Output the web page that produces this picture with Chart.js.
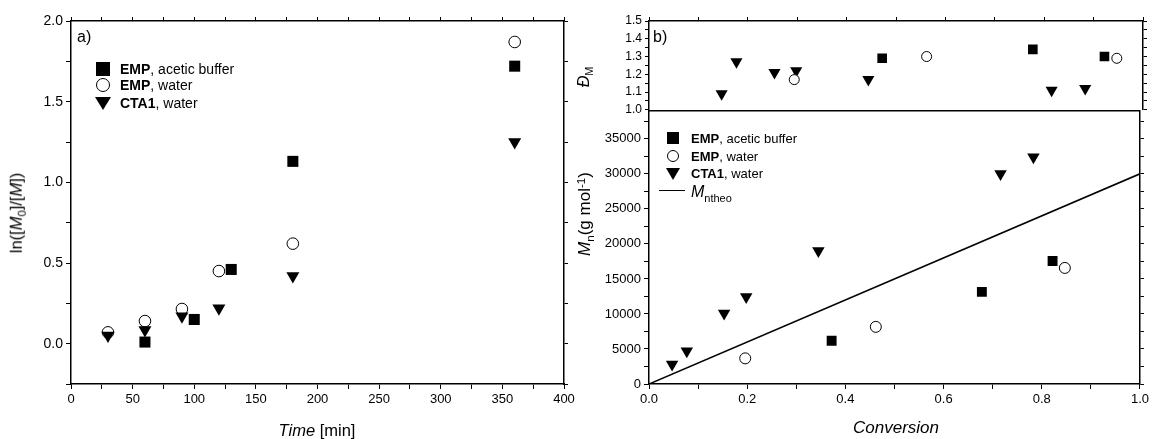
<!DOCTYPE html>
<html>
<head>
<meta charset="utf-8">
<script src="https://cdn.jsdelivr.net/npm/chart.js@4.4.0/dist/chart.umd.min.js"></script>
<style>
  body { margin: 0; background: #fff; }
  #wrap { position: relative; width: 1152px; height: 439px; overflow: hidden; font-family: "Liberation Sans", Arial, sans-serif; color: #000; }
  canvas { position: absolute; }
  .lbl { position: absolute; white-space: nowrap; line-height: 1; pointer-events: none; }
  .mid { transform: translateY(-50%); }
  .ctr { transform: translate(-50%, -50%); }
  .rot { transform: translate(-50%, -50%) rotate(-90deg); }
  .sym { position: absolute; box-sizing: border-box; }
  .sq { background: #000; }
  .ci { border: 1px solid #000; border-radius: 50%; background: #fff; }
  .tr { width: 0; height: 0; border-style: solid; border-color: #000 transparent transparent transparent; }
  .sub { position: relative; top: 0.35em; font-size: 0.68em; }
  .sup { position: relative; top: -0.45em; font-size: 0.68em; }
</style>
</head>
<body>
<div id="wrap">
  <canvas id="cA" width="600" height="439" style="left:0;top:0"></canvas>
  <canvas id="cB" width="562" height="120" style="left:590px;top:0"></canvas>
  <canvas id="cC" width="562" height="339" style="left:590px;top:100px"></canvas>

  <!-- panel a texts -->
  <div class="lbl mid" style="left:77px;top:37px;font-size:16px">a)</div>
  <div class="lbl rot" style="left:16px;top:213px;font-size:16.5px">ln([<i>M</i><span class="sub">0</span>]/[<i>M</i>])</div>
  <div class="lbl ctr" style="left:317px;top:430px;font-size:16.5px"><i>Time</i> [min]</div>

  <span class="sym sq" style="left:96px;top:62px;width:14px;height:14px"></span>
  <span class="sym ci" style="left:96px;top:78px;width:14px;height:14px"></span>
  <span class="sym tr" style="left:95px;top:97px;border-width:13px 8px 0 8px"></span>
  <div class="lbl mid" style="left:120px;top:69px;font-size:14px"><b>EMP</b>, acetic buffer</div>
  <div class="lbl mid" style="left:120px;top:85px;font-size:14px"><b>EMP</b>, water</div>
  <div class="lbl mid" style="left:120px;top:103px;font-size:14px"><b>CTA1</b>, water</div>

  <!-- panel b texts -->
  <div class="lbl mid" style="left:653px;top:37px;font-size:16px">b)</div>
  <div class="lbl rot" style="left:584px;top:77px;font-size:16px"><i>Đ</i><span class="sub">M</span></div>
  <div class="lbl rot" style="left:584px;top:214px;font-size:17px"><i>M</i><span class="sub">n</span>(g mol<span class="sup">-1</span>)</div>
  <div class="lbl ctr" style="left:896px;top:427px;font-size:17px"><i>Conversion</i></div>

  <span class="sym sq" style="left:667px;top:132px;width:12px;height:12px"></span>
  <span class="sym ci" style="left:667px;top:150px;width:12px;height:12px"></span>
  <span class="sym tr" style="left:666px;top:168px;border-width:12px 7px 0 7px"></span>
  <span class="sym" style="left:659px;top:190px;width:26px;height:1.4px;background:#000"></span>
  <div class="lbl mid" style="left:691px;top:138px;font-size:13px"><b>EMP</b>, acetic buffer</div>
  <div class="lbl mid" style="left:691px;top:156px;font-size:13px"><b>EMP</b>, water</div>
  <div class="lbl mid" style="left:691px;top:173px;font-size:13px"><b>CTA1</b>, water</div>
  <div class="lbl mid" style="left:691px;top:192px;font-size:16px"><i>M</i><span style="position:relative;top:5px;font-size:11px">ntheo</span></div>
</div>

<script>
// panel a: ln([M0]/[M]) vs time
const timeSq = [60, 100, 130, 180, 360];
const lnSq = [0.01, 0.15, 0.46, 1.13, 1.72];
const timeCi = [30, 60, 90, 120, 180, 360];
const lnCi = [0.07, 0.14, 0.215, 0.45, 0.62, 1.87];
const timeTr = [30, 60, 90, 120, 180, 360];
const lnTr = [0.05, 0.085, 0.17, 0.22, 0.42, 1.25];

// panel b top: dispersity vs conversion
const dispSqX = [0.472, 0.777, 0.922];
const dispSqY = [1.29, 1.34, 1.30];
const dispCiX = [0.294, 0.562, 0.947];
const dispCiY = [1.17, 1.30, 1.29];
const dispTrX = [0.147, 0.177, 0.254, 0.298, 0.444, 0.815, 0.883];
const dispTrY = [1.09, 1.27, 1.21, 1.22, 1.17, 1.11, 1.12];

// panel b bottom: Mn vs conversion
const mnSqX = [0.372, 0.678, 0.822];
const mnSqY = [6170, 13150, 17560];
const mnCiX = [0.196, 0.462, 0.847];
const mnCiY = [3660, 8160, 16570];
const mnTrX = [0.047, 0.077, 0.153, 0.198, 0.345, 0.716, 0.783];
const mnTrY = [2800, 4700, 10100, 12450, 19000, 30000, 32400];
const mnTheoX = [0, 1];
const mnTheoY = [0, 30000];

Chart.defaults.font.family = '"Liberation Sans", Arial, sans-serif';
Chart.defaults.color = '#000';

function pts(xs, ys) {
    return xs.map((x, i) => ({ x: x, y: ys[i] }));
}

function labelEvery(step, digits) {
    return (v) => Math.abs(v / step - Math.round(v / step)) < 1e-6 ? Number(v).toFixed(digits) : '';
}

function axis(pos, min, max, step, size, labelFn, fontSize, tickLen) {
    return {
        type: 'linear',
        position: pos,
        min: min,
        max: max,
        afterFit: (s) => {
            if (pos == 'left' || pos == 'right') s.width = size; else s.height = size;
        },
        // every step gets a tick, labels only where labelFn gives one
        afterBuildTicks: (s) => {
            const t = [];
            const n = Math.floor((max - min) / step + 1e-6);
            for (let i = 0; i <= n; i++) t.push({ value: +(min + i * step).toFixed(6) });
            s.ticks = t;
        },
        ticks: {
            stepSize: step,
            autoSkip: false,
            maxRotation: 0,
            includeBounds: false,
            display: !!labelFn,
            callback: labelFn || (() => ''),
            color: '#000',
            font: { size: fontSize || 13 },
            padding: 3
        },
        grid: {
            drawOnChartArea: false,
            drawTicks: tickLen > 0,
            tickLength: tickLen,
            color: '#000',
            lineWidth: 1
        },
        border: { display: true, color: '#000', width: 1.5 }
    };
}

function squares(data, r, order) {
    return { data: data, pointStyle: 'rect', pointRadius: r, pointHoverRadius: r, backgroundColor: '#000', borderWidth: 0, order: order };
}
function circles(data, r, order) {
    return { data: data, pointStyle: 'circle', pointRadius: r, pointHoverRadius: r, backgroundColor: '#fff', borderColor: '#000', borderWidth: 1, order: order };
}
function triangles(data, r, order) {
    return { data: data, pointStyle: 'triangle', rotation: 180, pointRadius: r, pointHoverRadius: r, backgroundColor: '#000', borderWidth: 0, order: order };
}

const baseOpts = {
    responsive: false,
    animation: false,
    devicePixelRatio: 1,
    layout: { padding: 0 },
    plugins: { legend: { display: false }, tooltip: { enabled: false } },
    events: []
};

new Chart(document.getElementById('cA'), {
    type: 'scatter',
    data: {
        datasets: [
            triangles(pts(timeTr, lnTr), 7.5, 0),
            circles(pts(timeCi, lnCi), 5.8, 1),
            squares(pts(timeSq, lnSq), 7.8, 2)
        ]
    },
    options: Object.assign({}, baseOpts, {
        scales: {
            x: axis('bottom', 0, 400, 25, 55, labelEvery(50, 0), 13, 5),
            y: axis('left', -0.25, 2.0, 0.25, 71, labelEvery(0.5, 1), 14, 5),
            x2: axis('top', 0, 400, 25, 21, null, 13, 4),
            y2: axis('right', -0.25, 2.0, 0.25, 36, null, 13, 4)
        }
    })
});

const bottomB = axis('bottom', 0, 1, 0.1, 10, null, 13, 0);
bottomB.border.display = false;
new Chart(document.getElementById('cB'), {
    type: 'scatter',
    data: {
        datasets: [
            circles(pts(dispCiX, dispCiY), 5, 0),
            triangles(pts(dispTrX, dispTrY), 7, 1),
            squares(pts(dispSqX, dispSqY), 6.8, 2)
        ]
    },
    options: Object.assign({}, baseOpts, {
        scales: {
            x: bottomB,
            y: axis('left', 1.0, 1.5, 0.05, 59, labelEvery(0.1, 1), 12, 4),
            x2: axis('top', 0, 1, 0.1, 21, null, 13, 4),
            y2: axis('right', 1.0, 1.5, 0.05, 9, null, 13, 4)
        }
    })
});

new Chart(document.getElementById('cC'), {
    type: 'scatter',
    data: {
        datasets: [
            circles(pts(mnCiX, mnCiY), 5.5, 0),
            triangles(pts(mnTrX, mnTrY), 7.2, 1),
            squares(pts(mnSqX, mnSqY), 7, 2),
            {
                data: pts(mnTheoX, mnTheoY),
                showLine: true,
                pointRadius: 0,
                borderColor: '#000',
                borderWidth: 1.6,
                order: 3
            }
        ]
    },
    options: Object.assign({}, baseOpts, {
        scales: {
            x: axis('bottom', 0, 1, 0.1, 55, labelEvery(0.2, 1), 13, 5),
            y: axis('left', 0, 39000, 2500, 59, labelEvery(5000, 0), 13, 5),
            x2: axis('top', 0, 1, 0.1, 10, null, 13, 0),
            y2: axis('right', 0, 39000, 2500, 9, null, 13, 4)
        }
    })
});
</script>
</body>
</html>
